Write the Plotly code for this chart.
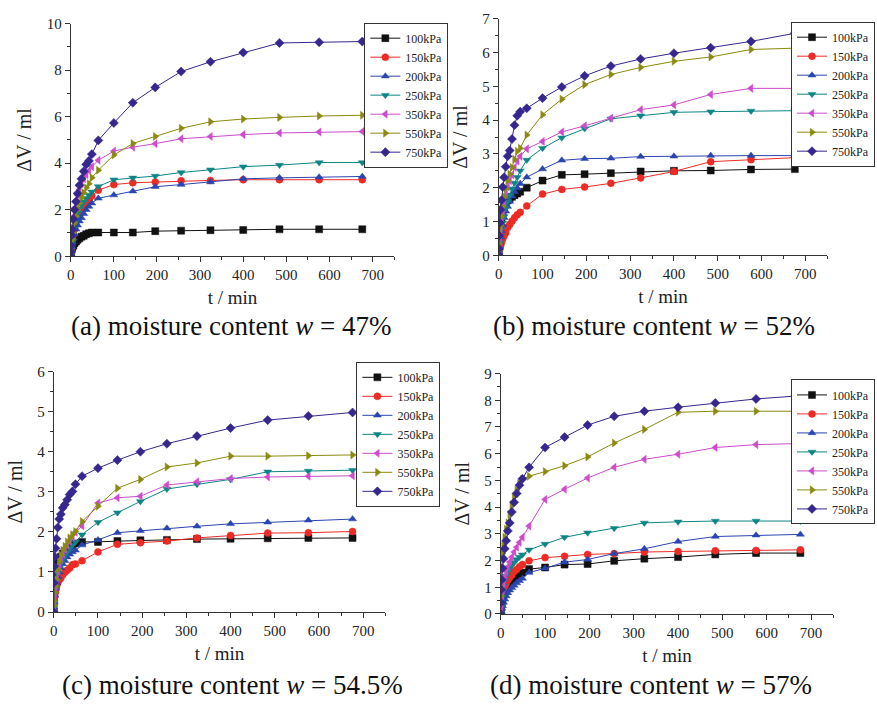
import plotly.graph_objects as go

# ---------------- data ----------------
t_min = [0, 0.25, 1, 2.25, 4, 6.25, 9, 12.25, 16, 20.25, 25, 30.25, 36, 42.25, 49, 64,
         100, 144, 196, 256, 324, 400, 484, 576, 676]
pressures = ["100kPa", "150kPa", "200kPa", "250kPa", "350kPa", "550kPa", "750kPa"]

# (a) w = 47%
a_100 = [0, 0.07, 0.18, 0.29, 0.39, 0.46, 0.57, 0.63, 0.71, 0.77, 0.84, 0.88, 0.95, 0.99, 1.02, 1.02, 1.02, 1.02, 1.08, 1.10, 1.12, 1.13, 1.16, 1.16, 1.16]
a_150 = [0, 0.11, 0.29, 0.49, 0.71, 0.92, 1.16, 1.37, 1.58, 1.79, 1.97, 2.14, 2.28, 2.42, 2.59, 2.84, 3.08, 3.16, 3.19, 3.25, 3.26, 3.29, 3.29, 3.29, 3.29]
a_200 = [0, 0.08, 0.21, 0.39, 0.60, 0.77, 0.95, 1.16, 1.33, 1.51, 1.65, 1.83, 2.00, 2.14, 2.28, 2.49, 2.63, 2.80, 2.99, 3.08, 3.19, 3.33, 3.37, 3.40, 3.43]
a_250 = [0, 0.15, 0.32, 0.60, 0.88, 1.16, 1.44, 1.65, 1.86, 2.04, 2.21, 2.35, 2.49, 2.63, 2.77, 3.00, 3.29, 3.37, 3.45, 3.60, 3.72, 3.85, 3.92, 4.03, 4.03]
a_350 = [0, 0.25, 0.53, 0.95, 1.30, 1.72, 2.07, 2.35, 2.63, 2.87, 3.12, 3.33, 3.51, 3.68, 3.85, 4.13, 4.52, 4.69, 4.84, 5.05, 5.15, 5.23, 5.30, 5.34, 5.36]
a_550 = [0, 0.11, 0.25, 0.46, 0.74, 1.02, 1.44, 1.72, 2.00, 2.28, 2.53, 2.73, 2.94, 3.12, 3.38, 3.70, 4.35, 4.85, 5.15, 5.50, 5.78, 5.90, 5.97, 6.03, 6.06]
a_750 = [0, 0.20, 0.45, 0.90, 1.15, 1.60, 2.00, 2.35, 2.70, 3.05, 3.33, 3.65, 3.95, 4.10, 4.39, 4.98, 5.73, 6.60, 7.26, 7.94, 8.36, 8.76, 9.17, 9.20, 9.23]

# (b) w = 52%
b_100 = [0, 0.14, 0.38, 0.63, 0.87, 1.11, 1.30, 1.44, 1.54, 1.62, 1.68, 1.73, 1.78, 1.83, 1.88, 2.00, 2.21, 2.38, 2.40, 2.43, 2.48, 2.50, 2.51, 2.54, 2.55]
b_150 = [0, 0.04, 0.10, 0.17, 0.27, 0.37, 0.48, 0.58, 0.67, 0.82, 0.91, 1.01, 1.11, 1.20, 1.27, 1.46, 1.81, 1.95, 2.02, 2.13, 2.29, 2.48, 2.77, 2.83, 2.89]
b_200 = [0, 0.10, 0.21, 0.38, 0.53, 0.72, 0.91, 1.11, 1.30, 1.44, 1.59, 1.75, 1.88, 1.99, 2.12, 2.31, 2.55, 2.81, 2.86, 2.87, 2.92, 2.93, 2.95, 2.95, 2.95]
b_250 = [0, 0.08, 0.19, 0.38, 0.58, 0.77, 0.96, 1.15, 1.39, 1.59, 1.78, 1.97, 2.14, 2.31, 2.50, 2.82, 3.17, 3.48, 3.75, 4.04, 4.13, 4.23, 4.25, 4.27, 4.28]
b_350 = [0, 0.12, 0.29, 0.53, 0.77, 1.06, 1.30, 1.54, 1.78, 2.02, 2.21, 2.38, 2.60, 2.79, 2.93, 3.15, 3.37, 3.65, 3.83, 4.06, 4.31, 4.45, 4.76, 4.94, 4.94]
b_550 = [0, 0.14, 0.34, 0.58, 0.87, 1.15, 1.44, 1.73, 1.97, 2.21, 2.40, 2.60, 2.84, 3.08, 3.17, 3.56, 4.16, 4.62, 5.05, 5.35, 5.56, 5.74, 5.87, 6.09, 6.13]
b_750 = [0, 0.19, 0.58, 0.96, 1.35, 1.63, 2.02, 2.31, 2.62, 2.93, 3.10, 3.44, 3.85, 4.13, 4.25, 4.35, 4.65, 4.98, 5.31, 5.60, 5.81, 5.98, 6.14, 6.33, 6.57]

# (c) w = 54.5%
c_100 = [0, 0.33, 0.57, 0.81, 0.98, 1.10, 1.22, 1.30, 1.38, 1.46, 1.52, 1.59, 1.63, 1.67, 1.71, 1.75, 1.75, 1.77, 1.79, 1.80, 1.82, 1.83, 1.84, 1.85, 1.85]
c_150 = [0, 0.12, 0.24, 0.39, 0.50, 0.61, 0.72, 0.80, 0.85, 0.93, 0.99, 1.04, 1.10, 1.18, 1.20, 1.28, 1.50, 1.69, 1.73, 1.77, 1.85, 1.91, 1.97, 1.98, 2.01]
c_200 = [0, 0.12, 0.24, 0.42, 0.59, 0.73, 0.88, 0.99, 1.10, 1.20, 1.28, 1.37, 1.44, 1.50, 1.54, 1.67, 1.80, 1.98, 2.03, 2.09, 2.14, 2.20, 2.24, 2.29, 2.32]
c_250 = [0, 0.12, 0.24, 0.45, 0.61, 0.77, 0.96, 1.10, 1.22, 1.32, 1.42, 1.50, 1.59, 1.67, 1.75, 1.93, 2.24, 2.48, 2.76, 3.07, 3.19, 3.31, 3.50, 3.52, 3.54]
c_350 = [0, 0.16, 0.28, 0.47, 0.65, 0.81, 1.02, 1.18, 1.32, 1.45, 1.56, 1.67, 1.77, 1.87, 1.99, 2.15, 2.72, 2.85, 2.89, 3.17, 3.25, 3.33, 3.37, 3.39, 3.40]
c_550 = [0, 0.16, 0.28, 0.49, 0.65, 0.81, 1.06, 1.26, 1.42, 1.54, 1.64, 1.75, 1.85, 1.93, 2.01, 2.26, 2.64, 3.09, 3.31, 3.62, 3.72, 3.89, 3.89, 3.90, 3.92]
c_750 = [0, 0.73, 1.14, 1.38, 1.59, 1.83, 2.11, 2.32, 2.44, 2.60, 2.68, 2.80, 2.93, 3.01, 3.19, 3.39, 3.59, 3.79, 4.00, 4.20, 4.39, 4.59, 4.79, 4.89, 4.98]

# (d) w = 57%
d_100 = [0, 0.12, 0.24, 0.40, 0.55, 0.70, 0.84, 0.98, 1.09, 1.18, 1.28, 1.37, 1.44, 1.50, 1.55, 1.68, 1.74, 1.85, 1.87, 1.99, 2.07, 2.13, 2.23, 2.28, 2.28]
d_150 = [0, 0.16, 0.30, 0.49, 0.67, 0.85, 1.01, 1.13, 1.26, 1.37, 1.46, 1.59, 1.67, 1.77, 1.85, 1.99, 2.11, 2.16, 2.23, 2.26, 2.32, 2.34, 2.37, 2.38, 2.40]
d_200 = [0, 0.06, 0.12, 0.21, 0.30, 0.43, 0.55, 0.67, 0.79, 0.89, 0.98, 1.07, 1.16, 1.24, 1.33, 1.55, 1.71, 1.94, 2.04, 2.26, 2.44, 2.71, 2.90, 2.95, 2.98]
d_250 = [0, 0.24, 0.43, 0.65, 0.85, 1.06, 1.26, 1.43, 1.59, 1.71, 1.83, 1.93, 2.04, 2.13, 2.22, 2.40, 2.62, 2.87, 3.04, 3.21, 3.41, 3.45, 3.48, 3.48, 3.48]
d_350 = [0, 0.21, 0.40, 0.67, 0.91, 1.16, 1.40, 1.59, 1.77, 1.95, 2.13, 2.32, 2.50, 2.68, 2.87, 3.29, 4.29, 4.67, 5.09, 5.49, 5.79, 5.98, 6.23, 6.34, 6.38]
d_550 = [0, 0.67, 1.28, 1.77, 2.26, 2.56, 2.87, 3.17, 3.41, 3.72, 4.09, 4.39, 4.63, 4.88, 5.04, 5.16, 5.33, 5.55, 5.88, 6.40, 6.91, 7.55, 7.59, 7.59, 7.59]
d_750 = [0, 0.43, 0.91, 1.28, 1.71, 2.07, 2.44, 2.74, 3.11, 3.41, 3.82, 4.18, 4.51, 4.82, 5.06, 5.49, 6.23, 6.62, 7.07, 7.40, 7.59, 7.74, 7.90, 8.05, 8.17]

x_ticks = [0, 100, 200, 300, 400, 500, 600, 700]
captions = ["(a) moisture content <i>w</i> = 47%",
            "(b) moisture content <i>w</i> = 52%",
            "(c) moisture content <i>w</i> = 54.5%",
            "(d) moisture content <i>w</i> = 57%"]

panels = [
    [a_100, a_150, a_200, a_250, a_350, a_550, a_750],
    [b_100, b_150, b_200, b_250, b_350, b_550, b_750],
    [c_100, c_150, c_200, c_250, c_350, c_550, c_750],
    [d_100, d_150, d_200, d_250, d_350, d_550, d_750],
]
y_max = [10, 7, 6, 9]
y_dtick = [2, 1, 1, 1]

# ---------------- style ----------------
W, H = 877, 708
colors = ["#111111", "#EE2A24", "#2B45B0", "#0E8585", "#CC4CCC", "#8A8A10", "#35278E"]
symbols = ["square", "circle", "triangle-up", "triangle-down", "triangle-left", "triangle-right", "diamond"]
FONT = "Liberation Serif"

# pixel layout: (x0, x_end(750), y_bottom, y_top) in screen pixels
boxes = [(67, 392, 254, 16), (497, 827, 253, 11), (50, 383, 618, 372), (499, 833, 620, 374)]
legend_pos = [(362, "left", 15), (875, "right", 14), (354, "left", 362), (875, "right", 380)]
caption_pos = [(228, 325), (653, 325), (230, 693), (650, 693)]

fig = go.Figure()
legend_names = ["legend", "legend2", "legend3", "legend4"]

for p, series in enumerate(panels):
    ax = "" if p == 0 else str(p + 1)
    for i, ys in enumerate(series):
        fig.add_trace(go.Scatter(
            x=t_min, y=ys, mode="lines+markers", name=pressures[i],
            xaxis="x" + ax, yaxis="y" + ax, legend=legend_names[p],
            line=dict(color=colors[i], width=1),
            marker=dict(symbol=symbols[i], size=7, color=colors[i],
                        line=dict(width=0.5, color=colors[i])),
        ))

layout = dict(width=W, height=H, margin=dict(l=0, r=0, t=0, b=0),
              paper_bgcolor="white", plot_bgcolor="white",
              font=dict(family=FONT, size=15, color="#222"))
annotations = []
for p in range(4):
    ax = "" if p == 0 else str(p + 1)
    x0, x1, yb, yt = boxes[p]
    xa = dict(domain=[x0 / W, x1 / W], range=[0, 750], anchor="y" + ax,
              tickvals=x_ticks, ticks="outside", ticklen=5, tickwidth=1,
              tickcolor="#333", showline=True, linecolor="#333", linewidth=1,
              showgrid=False, zeroline=False,
              minor=dict(dtick=50, tick0=0, ticks="outside", ticklen=3, tickcolor="#333", showgrid=False),
              tickfont=dict(size=15, family=FONT),
              title=dict(text="t / min", font=dict(size=19, family=FONT), standoff=8))
    ya = dict(domain=[(H - yb) / H, (H - yt) / H], range=[0, y_max[p]], anchor="x" + ax,
              dtick=y_dtick[p], tick0=0, ticks="outside", ticklen=5, tickwidth=1,
              tickcolor="#333", showline=True, linecolor="#333", linewidth=1,
              showgrid=False, zeroline=False,
              minor=dict(dtick=y_dtick[p] / 2, tick0=0, ticks="outside", ticklen=3, tickcolor="#333", showgrid=False),
              tickfont=dict(size=15, family=FONT),
              title=dict(text="ΔV / ml", font=dict(size=20, family=FONT), standoff=9))
    layout["xaxis" + ax] = xa
    layout["yaxis" + ax] = ya
    lx, lanchor, ly = legend_pos[p]
    layout[legend_names[p]] = dict(x=lx / W, y=(H - ly) / H, xanchor=lanchor, yanchor="top",
                                   bgcolor="white", bordercolor="#333", borderwidth=1,
                                   font=dict(size=12, family=FONT), itemwidth=30,
                                   tracegroupgap=0)
    cx, cy = caption_pos[p]
    annotations.append(dict(text=captions[p], x=cx / W, y=(H - cy) / H, xref="paper", yref="paper",
                            xanchor="center", yanchor="middle", showarrow=False,
                            font=dict(size=27, family=FONT, color="#111")))
layout["annotations"] = annotations
fig.update_layout(**layout)
fig.write_html("out.html")
